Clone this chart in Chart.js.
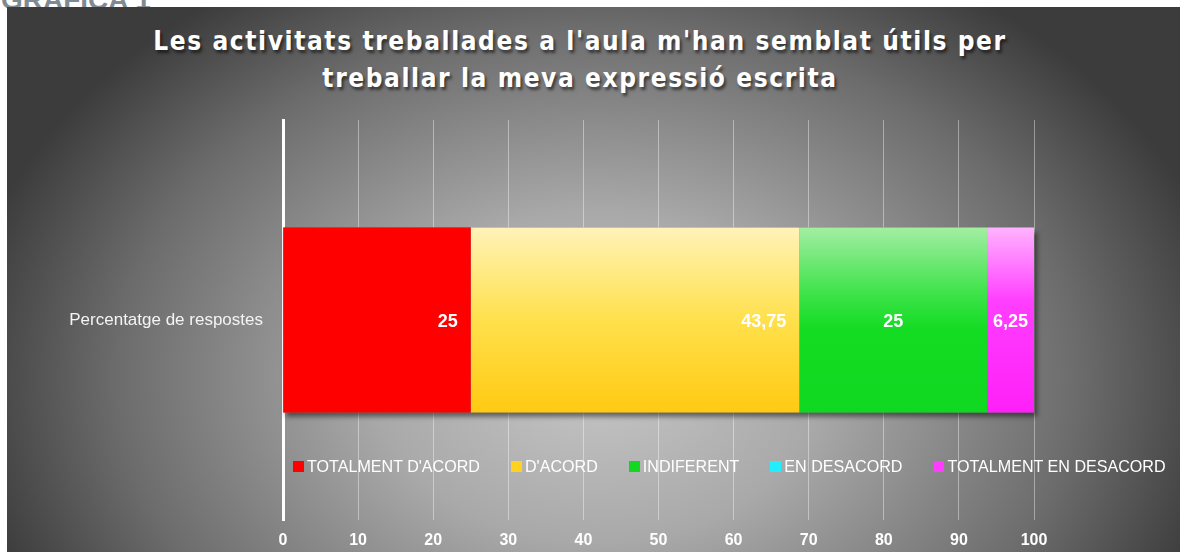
<!DOCTYPE html>
<html lang="ca">
<head>
<meta charset="utf-8">
<script src="https://cdn.jsdelivr.net/npm/chart.js@4.4.1/dist/chart.umd.min.js"></script>
<style>
    html, body { margin: 0; padding: 0; background: #fff; }
    #wrap { position: relative; width: 1186px; height: 552px; overflow: hidden; }
    #heading {
        position: absolute; left: 1px; top: -16px;
        font: bold 28px "Liberation Sans", Arial, sans-serif; color: #7f8a92;
    }
    #panel {
        position: absolute; left: 7px; top: 7px; width: 1173px; height: 545px;
        background: radial-gradient(ellipse 640px 470px at 590px 370px, #c6c6c6 0%, #a9a9a9 35%, #6c6c6c 75%, #3c3c3c 100%);
    }
    #title {
        position: absolute; left: 0; top: 23px; width: 1160px; text-align: center;
        font: bold 26px "DejaVu Sans Condensed", "Liberation Sans Narrow", sans-serif;
        line-height: 37px; letter-spacing: 1.6px; color: #fff;
        text-shadow: 2px 3px 3px rgba(0, 0, 0, 0.55);
    }
    #myChart { position: absolute; left: 0; top: 0; }
    #legend-container { position: absolute; left: 293px; top: 456px; width: 893px; white-space: nowrap; }
</style>
</head>
<body>
<div id="wrap">
    <div id="heading">GRÀFICA 1</div>
    <div id="panel"></div>
    <div id="title">Les activitats treballades a l'aula m'han semblat útils per<br>treballar la meva expressió escrita</div>
    <canvas id="myChart" width="1186" height="552"></canvas>
    <div id="legend-container"></div>
</div>
<script>
// dades
const categories = ['Percentatge de respostes'];
const seriesNames = ["TOTALMENT D'ACORD", "D'ACORD", 'INDIFERENT', 'EN DESACORD', 'TOTALMENT EN DESACORD'];
const seriesValues = [25, 43.75, 25, 0, 6.25];
const xMin = 0;
const xMax = 100;
const xStep = 10;

// colors de la llegenda i degradats de les barres
const legendColors = ['#ff0000', '#ffd21f', '#12d822', '#22eeff', '#ff3cff'];
const barStops = [
    [[0, '#ff0000'], [1, '#ff0000']],
    [[0, '#fff3b8'], [0.5, '#ffe04c'], [1, '#ffca12']],
    [[0, '#a3eea3'], [0.35, '#3fe34b'], [0.55, '#13dc23'], [1, '#10d820']],
    [[0, '#22eeff'], [1, '#22eeff']],
    [[0, '#ffb3ff'], [0.4, '#ff3eff'], [1, '#ff20f8']],
];
const labelAnchor = ['end', 'end', 'center', 'center', 'center'];

const FONT = '"Liberation Sans", Arial, sans-serif';
const BAR_PCT = 0.4625;

//
const barGradient = (i) => (context) => {
    const { chart } = context;
    const { ctx, chartArea } = chart;
    if (!chartArea) return legendColors[i];
    const mid = chart.scales.y.getPixelForValue(0);
    const half = chartArea.height * BAR_PCT / 2;
    const g = ctx.createLinearGradient(0, mid - half, 0, mid + half);
    barStops[i].forEach(([pos, col]) => g.addColorStop(pos, col));
    return g;
};

// ombra sota tota la barra apilada
const barShadow = {
    id: 'barShadow',
    beforeDatasetsDraw(chart) {
        const { ctx, chartArea, scales: { x, y } } = chart;
        const total = seriesValues.reduce((a, b) => a + b, 0);
        const mid = y.getPixelForValue(0);
        const half = chartArea.height * BAR_PCT / 2;
        const left = x.getPixelForValue(0);
        const right = x.getPixelForValue(total);
        ctx.save();
        ctx.shadowColor = 'rgba(0, 0, 0, 0.5)';
        ctx.shadowOffsetX = 3;
        ctx.shadowOffsetY = 4;
        ctx.shadowBlur = 5;
        ctx.fillStyle = '#777';
        ctx.fillRect(left, mid - half, right - left, half * 2);
        ctx.restore();
    }
};

//
const valueLabels = {
    id: 'valueLabels',
    afterDatasetsDraw(chart) {
        const { ctx } = chart;
        chart.data.datasets.forEach((dataset, i) => {
            const meta = chart.getDatasetMeta(i);
            meta.data.forEach((bar, index) => {
                const value = dataset.data[index];
                if (!value) return;
                const text = String(value).replace('.', ',');
                ctx.save();
                ctx.font = 'bold 18px ' + FONT;
                ctx.fillStyle = '#ffffff';
                ctx.textBaseline = 'middle';
                if (labelAnchor[i] === 'end') {
                    ctx.textAlign = 'right';
                    ctx.fillText(text, bar.x - 13, bar.y + 2);
                } else {
                    ctx.textAlign = 'center';
                    ctx.fillText(text, (bar.x + bar.base) / 2, bar.y + 2);
                }
                ctx.restore();
            });
        });
    }
};

//
const htmlLegendPlugin = {
    id: 'htmlLegend',
    afterUpdate(chart, args, options) {
        const box = document.getElementById(options.containerID);
        box.innerHTML = '';
        const ul = document.createElement('ul');
        ul.style.display = 'flex';
        ul.style.flexDirection = 'row';
        ul.style.margin = 0;
        ul.style.padding = 0;
        ul.style.listStyle = 'none';
        box.appendChild(ul);

        chart.data.datasets.forEach((ds, i) => {
            const li = document.createElement('li');
            li.style.display = 'flex';
            li.style.alignItems = 'center';
            li.style.flexShrink = 0;
            li.style.marginRight = '31px';

            const swatch = document.createElement('span');
            swatch.style.display = 'inline-block';
            swatch.style.flexShrink = 0;
            swatch.style.width = '11px';
            swatch.style.height = '11px';
            swatch.style.marginRight = '3px';
            swatch.style.background = legendColors[i];

            const p = document.createElement('p');
            p.style.margin = 0;
            p.style.whiteSpace = 'nowrap';
            p.style.font = '16.1px ' + FONT;
            p.style.lineHeight = '20px';
            p.style.color = '#ffffff';
            p.textContent = ds.label;

            li.appendChild(swatch);
            li.appendChild(p);
            ul.appendChild(li);
        });
    }
};

new Chart(document.getElementById('myChart'), {
    type: 'bar',
    data: {
        labels: categories,
        datasets: seriesNames.map((name, i) => ({
            label: name,
            data: [seriesValues[i]],
            backgroundColor: barGradient(i),
            borderWidth: 0,
            categoryPercentage: 1,
            barPercentage: BAR_PCT,
        }))
    },
    options: {
        responsive: false,
        animation: false,
        indexAxis: 'y',
        layout: { padding: { top: 120, right: 152, bottom: 0, left: 0 } },
        scales: {
            x: {
                stacked: true,
                min: xMin,
                max: xMax,
                ticks: {
                    stepSize: xStep,
                    color: '#ffffff',
                    font: { family: FONT, size: 16, weight: 'bold' },
                    padding: 11,
                },
                grid: {
                    color: 'rgba(255, 255, 255, 0.4)',
                    lineWidth: 1,
                    drawTicks: false,
                },
                border: { display: false },
                afterFit: (scale) => { scale.height = 32; },
            },
            y: {
                stacked: true,
                ticks: {
                    color: '#f4f4f4',
                    font: { family: FONT, size: 17 },
                    padding: 20,
                },
                grid: { display: false, drawTicks: false },
                border: { display: true, color: '#ffffff', width: 3 },
                afterFit: (scale) => { scale.width = 283; },
            }
        },
        plugins: {
            htmlLegend: { containerID: 'legend-container' },
            legend: { display: false },
            tooltip: { enabled: false },
        }
    },
    plugins: [barShadow, valueLabels, htmlLegendPlugin]
});
</script>
</body>
</html>
